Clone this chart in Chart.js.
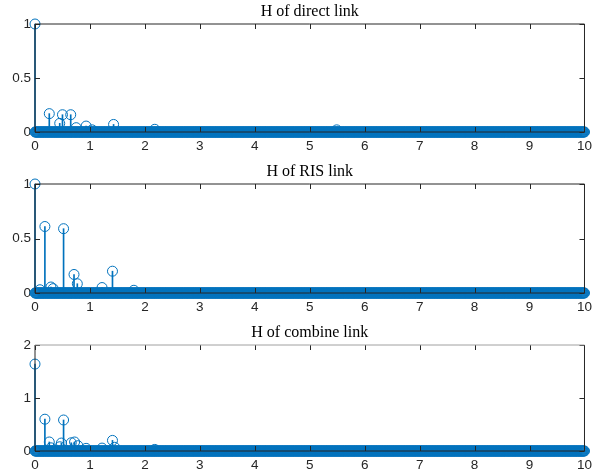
<!DOCTYPE html>
<html>
<head>
<meta charset="utf-8">
<script src="https://cdn.jsdelivr.net/npm/chart.js@4.4.1/dist/chart.umd.min.js"></script>
<style>
  html, body { margin: 0; padding: 0; background: #fff; }
  body { width: 598px; height: 475px; position: relative; overflow: hidden; }
  canvas { position: absolute; left: 0; }
</style>
</head>
<body>
<canvas id="direct"></canvas>
<canvas id="ris"></canvas>
<canvas id="combined"></canvas>
<script>
// tap delays (x) and gains (y)
const directTimes = [0, 0.26, 0.45, 0.50, 0.65, 0.75, 0.93, 1.04, 1.43, 2.18, 5.49];
const directGains = [1.0, 0.17, 0.08, 0.16, 0.16, 0.04, 0.055, 0.02, 0.07, 0.025, 0.02];

const risTimes = [0, 0.09, 0.18, 0.29, 0.33, 0.52, 0.71, 0.77, 1.22, 1.41, 1.80];
const risGains = [1.0, 0.03, 0.61, 0.055, 0.04, 0.59, 0.17, 0.085, 0.05, 0.20, 0.025];

const combinedTimes = [0, 0.18, 0.26, 0.29, 0.45, 0.48, 0.52, 0.66, 0.72, 0.78, 0.93, 1.22, 1.41, 1.45, 2.18];
const combinedGains = [1.64, 0.60, 0.17, 0.06, 0.08, 0.15, 0.585, 0.155, 0.17, 0.10, 0.05, 0.055, 0.20, 0.07, 0.03];

// every other sample on the 0..10 grid sits at zero
const sampleStep = 0.01;
const sampleEnd = 10;

const xTicks = [0, 1, 2, 3, 4, 5, 6, 7, 8, 9, 10];
const yTicksUnit = [0, 0.5, 1];
const yTicksCombined = [0, 1, 2];

const titles = ['H of direct link', 'H of RIS link', 'H of combine link'];

const blue = '#0072BD';
const axisColor = '#262626';

let floorPoints = [];
for (let i = 0; i <= Math.round(sampleEnd / sampleStep); i++) {
    floorPoints.push({ x: +(i * sampleStep).toFixed(2), y: 0 });
}

// box + inward ticks like matlab, drawn on top of the data
const boxPlugin = {
    id: 'box',
    afterDatasetsDraw(chart, args, opts) {
        const ctx = chart.ctx;
        const a = chart.chartArea;
        const xs = chart.scales.x;
        const ys = chart.scales.y;
        ctx.save();
        ctx.lineWidth = 1;
        ctx.strokeStyle = axisColor;
        ctx.beginPath();
        ctx.moveTo(a.left, a.bottom);
        ctx.lineTo(a.right, a.bottom);
        ctx.lineTo(a.right, a.top);
        ctx.moveTo(a.left, a.top);
        ctx.lineTo(a.left, a.bottom);
        xs.ticks.forEach(t => {
            const px = Math.round(xs.getPixelForValue(t.value)) + 0.5;
            ctx.moveTo(px, a.bottom);
            ctx.lineTo(px, a.bottom - 5);
            ctx.moveTo(px, a.top);
            ctx.lineTo(px, a.top + 5);
        });
        ys.ticks.forEach(t => {
            const py = Math.round(ys.getPixelForValue(t.value)) + 0.5;
            ctx.moveTo(a.left, py);
            ctx.lineTo(a.left + 5, py);
            ctx.moveTo(a.right, py);
            ctx.lineTo(a.right - 5, py);
        });
        ctx.stroke();
        ctx.strokeStyle = opts.topColor || axisColor;
        ctx.beginPath();
        ctx.moveTo(a.left, a.top);
        ctx.lineTo(a.right, a.top);
        ctx.stroke();
        ctx.fillStyle = '#000';
        ctx.font = "16px 'Liberation Serif'";
        ctx.textAlign = 'center';
        ctx.textBaseline = 'middle';
        ctx.fillText(opts.text, (a.left + a.right) / 2, a.top - 12);
        ctx.restore();
    }
};

function makePanel(id, top, bottom, times, gains, yMax, yTicks, title, topColor) {
    const canvas = document.getElementById(id);
    const canvasTop = top - 24;
    canvas.style.top = canvasTop + 'px';
    canvas.width = 598;
    canvas.height = bottom - canvasTop + 22;

    const taps = times.map((t, i) => ({ x: t, y: gains[i] }));

    new Chart(canvas.getContext('2d'), {
        type: 'scatter',
        data: {
            datasets: [
                {
                    data: floorPoints,
                    pointRadius: 5,
                    pointBorderWidth: 1,
                    pointBorderColor: blue,
                    pointBackgroundColor: 'rgba(0,0,0,0)',
                    clip: false
                },
                {
                    data: taps,
                    pointRadius: 5,
                    pointBorderWidth: 1,
                    pointBorderColor: blue,
                    pointBackgroundColor: 'rgba(0,0,0,0)',
                    clip: false
                },
                {
                    type: 'bar',
                    data: taps,
                    backgroundColor: blue,
                    barThickness: 1,
                    clip: false
                }
            ]
        },
        options: {
            responsive: false,
            animation: false,
            devicePixelRatio: 1,
            events: [],
            layout: { padding: { top: 24, right: 9, left: 0, bottom: 0 } },
            plugins: {
                legend: { display: false },
                tooltip: { enabled: false },
                title: { display: false },
                box: { text: title, topColor: topColor }
            },
            scales: {
                x: {
                    type: 'linear',
                    min: 0,
                    max: 10,
                    offset: false,
                    grid: { display: false, drawTicks: false },
                    border: { display: false },
                    afterBuildTicks: s => { s.ticks = xTicks.map(v => ({ value: v })); },
                    afterFit: s => { s.height = 22; },
                    ticks: {
                        padding: 6,
                        maxRotation: 0,
                        color: axisColor,
                        font: { family: 'Liberation Sans', size: 13.5 },
                        callback: v => String(v)
                    }
                },
                y: {
                    type: 'linear',
                    min: 0,
                    max: yMax,
                    grid: { display: false, drawTicks: false },
                    border: { display: false },
                    afterBuildTicks: s => { s.ticks = yTicks.map(v => ({ value: v })); },
                    afterFit: s => { s.width = 35; },
                    ticks: {
                        padding: 4,
                        color: axisColor,
                        font: { family: 'Liberation Sans', size: 13.5 },
                        callback: v => String(v)
                    }
                }
            }
        },
        plugins: [boxPlugin]
    });
}

makePanel('direct', 24, 132, directTimes, directGains, 1, yTicksUnit, titles[0]);
makePanel('ris', 184, 293, risTimes, risGains, 1, yTicksUnit, titles[1]);
makePanel('combined', 345, 451, combinedTimes, combinedGains, 2, yTicksCombined, titles[2], '#a0a0a0');
</script>
</body>
</html>
